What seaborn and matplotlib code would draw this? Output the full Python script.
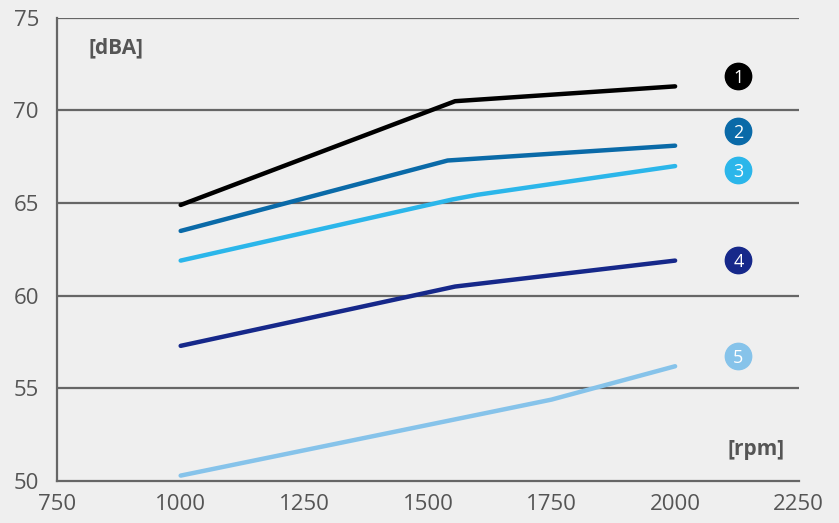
import pandas as pd
import matplotlib.pyplot as plt
import seaborn as sns

# values
rpm_1 = [1000, 1555, 2000]
dba_1 = [64.9, 70.5, 71.3]
rpm_2 = [1000, 1540, 2000]
dba_2 = [63.5, 67.3, 68.1]
rpm_3 = [1000, 1550, 1600, 2000]
dba_3 = [61.9, 65.2, 65.45, 67.0]
rpm_4 = [1000, 1555, 2000]
dba_4 = [57.3, 60.5, 61.9]
rpm_5 = [1000, 1750, 2000]
dba_5 = [50.3, 54.4, 56.2]

series_names = ['1', '2', '3', '4', '5']
label_y = [71.85, 68.9, 66.8, 61.95, 56.75]
colors = ['#000000', '#0a6aa8', '#2bb6ea', '#16288a', '#86c3ea']

frames = []
for name, x, y in zip(series_names, [rpm_1, rpm_2, rpm_3, rpm_4, rpm_5],
                      [dba_1, dba_2, dba_3, dba_4, dba_5]):
    frames.append(pd.DataFrame({'rpm': x, 'dBA': y, 'series': name}))
data = pd.concat(frames, ignore_index=True)

sns.set_style('white')
plt.rcParams['font.family'] = ['Open Sans', 'DejaVu Sans']

bg = '#efefef'
grey = '#666666'
fig = plt.figure(figsize=(8.39, 5.23), dpi=100, facecolor=bg)
ax = fig.add_axes([0.068, 0.080, 0.884, 0.886], facecolor=bg)

sns.lineplot(data=data, x='rpm', y='dBA', hue='series', palette=colors,
             linewidth=3.2, legend=False, ax=ax, sort=False)

# numbered badges at the right end
for name, y, c in zip(series_names, label_y, colors):
    ax.scatter([2128], [y], s=360, color=c, zorder=5, clip_on=False)
    ax.text(2128, y - 0.12, name, color='white', fontsize=13, ha='center',
            va='center', zorder=6)

ax.set_xlim(750, 2250)
ax.set_ylim(50, 75)
ax.set_xticks([750, 1000, 1250, 1500, 1750, 2000, 2250])
ax.set_yticks([50, 55, 60, 65, 70, 75])
for yv in [55, 60, 65, 70, 75]:
    ax.axhline(yv, color=grey, linewidth=1.6, zorder=0)

for side in ['top', 'right']:
    ax.spines[side].set_visible(False)
for side in ['left', 'bottom']:
    ax.spines[side].set_color(grey)
    ax.spines[side].set_linewidth(1.6)
ax.tick_params(axis='both', colors=grey, labelcolor='#555555', labelsize=16,
               length=6, width=1.6, direction='out', pad=3)
ax.tick_params(axis='y', pad=7)
ax.set_xlabel('')
ax.set_ylabel('')

ax.text(813, 73.4, '[dBA]', fontsize=15, fontweight='bold', color='#555555',
        ha='left', va='center')
ax.text(2222, 51.7, '[rpm]', fontsize=15, fontweight='bold', color='#555555',
        ha='right', va='center')

fig.savefig('out.png', dpi=100, facecolor=bg)
